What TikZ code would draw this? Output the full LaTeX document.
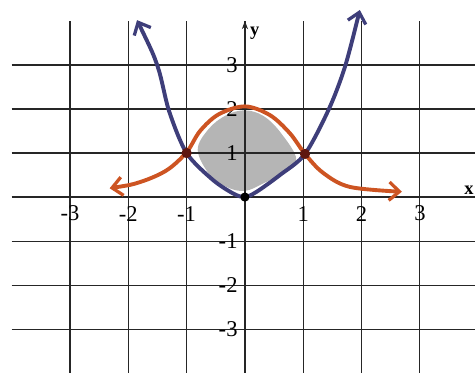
\documentclass[tikz,border=0pt]{standalone}
\usepackage{fontspec}
\setmainfont{Liberation Serif}
\usetikzlibrary{arrows.meta}
\definecolor{parblue}{RGB}{62,62,122}
\definecolor{bellorange}{RGB}{205,84,34}
\definecolor{meetred}{RGB}{95,22,16}

\begin{document}
\begin{tikzpicture}[x=1cm, y=0.7547cm, >=Stealth,
  gridline/.style={black!85, line width=0.55pt},
  tick/.style={inner sep=0pt, font=\fontsize{11}{13}\selectfont},
  curve/.style={line width=1.9pt, line cap=round, line join=round,
    {Straight Barb[length=5pt,width=9pt,line width=1.6pt]}-{Straight Barb[length=5pt,width=9pt,line width=1.6pt]}},
  meet/.style={circle, fill=meetred, inner sep=0pt, minimum size=5pt}]
\useasboundingbox (-4.2,-3.977) rectangle (3.945,4.477);
% shaded area between the two curves
\fill[gray!58] plot[smooth cycle, tension=0.6] coordinates {(-0.81,1.07) (-0.62,1.55)
  (-0.32,1.86) (0,1.97) (0.32,1.84) (0.62,1.45) (0.88,0.85) (0.6,0.52) (0.3,0.3)
  (0,0.14) (-0.3,0.22) (-0.6,0.5)};
% grid
\foreach \k in {-3,...,3} {
  \draw[gridline] (-4,\k) -- (4.2,\k);
  \draw[gridline] (\k,-4.2) -- (\k,4);
}
\draw[gridline, -{Stealth[length=4pt,width=3pt]}] (0,-4.2) -- (0,4);
\node[font=\bfseries\small] (ylab) at (0.17,3.73) {y};
\node[font=\bfseries\small, anchor=east, inner sep=0.5pt] (xlab) at (3.945,0.16) {x};
% tick labels
\foreach \k in {-3,-2,-1,1,2,3} {
  \node[tick] (xt\k) at (\k,-0.375) {\k};
  \node[tick, anchor=east] (yt\k) at (-0.12,\k) {\k};
}
% y = x^2
\draw[curve, parblue] plot[smooth, tension=0.5] coordinates {(-1.85,4.02) (-1.5,2.98)
  (-1.3,1.95) (-1.0,1.0) (-0.55,0.39) (-0.2,0.08) (0,0) (0.2,0.12) (0.6,0.5)
  (1.03,0.98) (1.44,2.0) (1.72,2.98) (1.97,4.25)};
% bell curve
\draw[curve, bellorange] plot[smooth, tension=0.55] coordinates {(-2.32,0.2) (-1.8,0.34)
  (-1.34,0.61) (-1.0,1.02) (-0.77,1.5) (-0.45,1.88) (0,2.06) (0.43,1.86)
  (0.77,1.45) (1.03,0.98) (1.34,0.55) (1.8,0.23) (2.69,0.12)};
% points of intersection
\node[meet] (pl) at (-1,1) {};
\node[meet] (pr) at (1.03,0.98) {};
\node[circle, fill=black, inner sep=0pt, minimum size=4.5pt] (o) at (0,0) {};
\end{tikzpicture}
\end{document}
